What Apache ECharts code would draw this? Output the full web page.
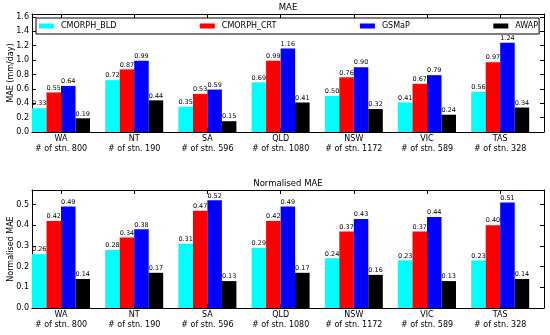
<!DOCTYPE html>
<html>
<head>
<meta charset="utf-8">
<script src="https://cdn.jsdelivr.net/npm/echarts@6/dist/echarts.min.js"></script>
<style>
html,body{margin:0;padding:0;background:#fff;}
#c{width:550px;height:335px;}
</style>
</head>
<body>
<div id="c"></div>
<script>
// ---- data ----
const regions = ['WA', 'NT', 'SA', 'QLD', 'NSW', 'VIC', 'TAS'];
const stations = [800, 190, 596, 1080, 1172, 589, 328];
const seriesNames = ['CMORPH_BLD', 'CMORPH_CRT', 'GSMaP', 'AWAP'];
const seriesColors = ['#00ffff', '#ff0000', '#0000ff', '#000000'];

const maeBLD   = [0.33, 0.72, 0.35, 0.69, 0.50, 0.41, 0.56];
const maeCRT   = [0.55, 0.87, 0.53, 0.99, 0.76, 0.67, 0.97];
const maeGSMaP = [0.64, 0.99, 0.59, 1.16, 0.90, 0.79, 1.24];
const maeAWAP  = [0.19, 0.44, 0.15, 0.41, 0.32, 0.24, 0.34];

const nmaeBLD   = [0.26, 0.28, 0.31, 0.29, 0.24, 0.23, 0.23];
const nmaeCRT   = [0.42, 0.34, 0.47, 0.42, 0.37, 0.37, 0.40];
const nmaeGSMaP = [0.49, 0.38, 0.52, 0.49, 0.43, 0.44, 0.51];
const nmaeAWAP  = [0.14, 0.17, 0.13, 0.17, 0.16, 0.13, 0.14];

const maeTicks  = [0, 0.2, 0.4, 0.6, 0.8, 1.0, 1.2, 1.4, 1.6];
const nmaeTicks = [0, 0.1, 0.2, 0.3, 0.4, 0.5];
const categoryIndex = [0, 1, 2, 3, 4, 5, 6];

// ---- layout ----
const FONT = 'DejaVu Sans';
const plotLeft = 32, plotWidth = 512, plotHeight = 118;
const pitch = 73.2;           // px per category group
const groupHalf = 29;         // half of 4 bars
const xMin = -groupHalf / pitch;
const xMax = xMin + plotWidth / pitch;

function makeAxesPair(gridIndex) {
  const common = {
    type: 'value', gridIndex: gridIndex, min: xMin, max: xMax,
    splitLine: { show: false },
    axisLine: { show: true, onZero: false, lineStyle: { color: '#000', width: 1 } }
  };
  return [
    Object.assign({}, common, {
      position: 'bottom',
      axisTick: { show: true, inside: true, length: 4, customValues: categoryIndex, lineStyle: { color: '#000' } },
      axisLabel: {
        show: true, customValues: categoryIndex, margin: 1.5,
        fontFamily: FONT, fontSize: 8, color: '#000', lineHeight: 10, align: 'center',
        formatter: v => { const i = Math.round(v); return regions[i] + '\n# of stn. ' + stations[i]; }
      }
    }),
    Object.assign({}, common, {
      position: 'top',
      axisTick: { show: true, inside: true, length: 4, customValues: categoryIndex, lineStyle: { color: '#000' } },
      axisLabel: { show: false }
    })
  ];
}

function makeYPair(gridIndex, max, ticks, name) {
  const common = {
    type: 'value', gridIndex: gridIndex, min: 0, max: max,
    splitLine: { show: false },
    axisLine: { show: true, onZero: false, lineStyle: { color: '#000', width: 1 } },
    axisTick: { show: true, inside: true, length: 4, customValues: ticks, lineStyle: { color: '#000' } }
  };
  return [
    Object.assign({}, common, {
      position: 'left',
      name: name, nameLocation: 'middle', nameRotate: 90, nameGap: 17, nameMoveOverlap: false,
      nameTextStyle: { fontFamily: FONT, fontSize: 8, color: '#000' },
      axisLabel: {
        show: true, customValues: ticks, margin: 3,
        fontFamily: FONT, fontSize: 8, color: '#000',
        formatter: v => v.toFixed(1)
      }
    }),
    Object.assign({}, common, {
      position: 'right',
      axisLabel: { show: false }
    })
  ];
}

function barSeries(name, color, values, xIdx, yIdx) {
  return {
    name: name, type: 'bar',
    xAxisIndex: xIdx, yAxisIndex: yIdx,
    barWidth: 14.5, barGap: '0%',
    itemStyle: { color: color },
    label: {
      show: true, position: 'top', distance: 1,
      fontFamily: FONT, fontSize: 6.5, color: '#000',
      formatter: p => p.value[1].toFixed(2)
    },
    data: values.map((v, i) => [categoryIndex[i], v])
  };
}

const topSets = [maeBLD, maeCRT, maeGSMaP, maeAWAP];
const botSets = [nmaeBLD, nmaeCRT, nmaeGSMaP, nmaeAWAP];

const series = [];
topSets.forEach((arr, k) => series.push(barSeries(seriesNames[k], seriesColors[k], arr, 0, 0)));
botSets.forEach((arr, k) => series.push(barSeries(seriesNames[k], seriesColors[k], arr, 2, 2)));

const option = {
  animation: false,
  backgroundColor: '#fff',
  title: [
    { text: 'MAE', left: plotLeft + plotWidth / 2, top: 3, textAlign: 'center', padding: 0,
      textStyle: { fontFamily: FONT, fontSize: 8.5, fontWeight: 'normal', color: '#000' } },
    { text: 'Normalised MAE', left: plotLeft + plotWidth / 2, top: 179, textAlign: 'center', padding: 0,
      textStyle: { fontFamily: FONT, fontSize: 8.5, fontWeight: 'normal', color: '#000' } }
  ],
  legend: {
    data: seriesNames,
    left: 36, top: 18, orient: 'horizontal',
    padding: [4, 1, 4, 3],
    itemGap: 83.5, itemWidth: 15, itemHeight: 5,
    borderColor: '#000', borderWidth: 1, backgroundColor: '#fff',
    icon: 'rect',
    textStyle: { fontFamily: FONT, fontSize: 8, color: '#000', padding: [0, 0, 0, 2] }
  },
  grid: [
    { left: plotLeft, top: 14, width: plotWidth, height: plotHeight, containLabel: false, outerBoundsMode: 'none' },
    { left: plotLeft, top: 190, width: plotWidth, height: plotHeight, containLabel: false, outerBoundsMode: 'none' }
  ],
  xAxis: makeAxesPair(0).concat(makeAxesPair(1)),
  yAxis: makeYPair(0, 1.64, maeTicks, 'MAE (mm/day)').concat(makeYPair(1, 0.57, nmaeTicks, 'Normalised MAE')),
  series: series
};

const chart = echarts.init(document.getElementById('c'), null, { renderer: 'canvas' });
chart.setOption(option);
</script>
</body>
</html>
